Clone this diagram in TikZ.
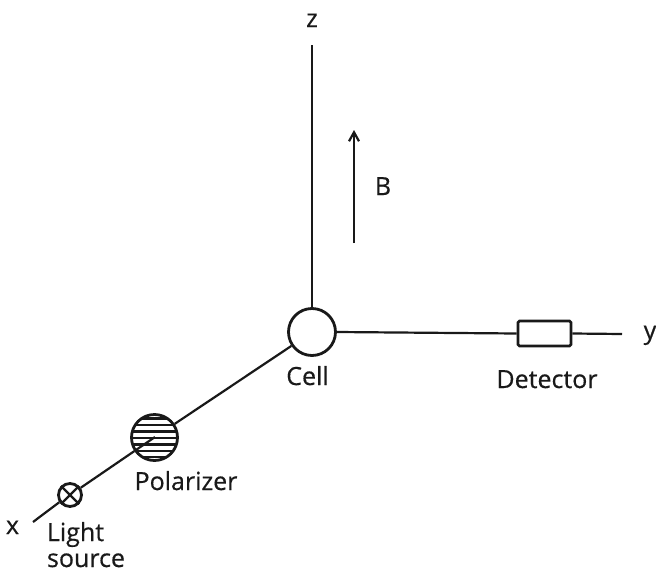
\documentclass[tikz,border=0pt]{standalone}
\usetikzlibrary{arrows.meta}
\usepackage{fontspec}
\newfontfamily\labfont[FakeBold=0.5]{Open Sans}
\begin{document}
\begin{tikzpicture}[x=1pt,y=-1pt,
  ink/.style={line width=2.2pt,black!90},
  ring/.style={circle,draw=black!90,line width=2.8pt,inner sep=0pt,fill=white},
  lab/.style={inner sep=0pt,font=\labfont\fontsize{25}{28}\selectfont,text=black!90,anchor=base},
  tip/.style={-{Straight Barb[length=9pt,width=10pt,line width=2.2pt]}}]
\useasboundingbox (0,0) rectangle (656,573);
\coordinate (xend) at (33,522);
\coordinate (yend) at (622,334);
\coordinate (zend) at (312,45);
\coordinate (bstart) at (354,243);
\coordinate (bend) at (354,130);
\coordinate (polc) at (155,437);
\node[ring,minimum size=47pt] (cell) at (312,332) {};
\node[ring,minimum size=46pt,fill=none] (pol) at (154.5,437.5) {};
\node[ring,minimum size=23pt] (src) at (70,495) {};
\node[draw=black!90,line width=2.8pt,rounded corners=1.5pt,minimum width=53pt,minimum height=25pt,inner sep=0pt,fill=white] (det) at (544.5,333.5) {};
% polarizer hatching
\begin{scope}
\clip (154.5,437.5) circle (23.5);
\foreach \yy in {418.5,425,431.5,438,444.5,451,457}{\draw[line width=2.6pt,black!90] (125,\yy)--(185,\yy);}
\fill[black!90] (125,459.5) rectangle (185,470);
\fill[black!90] (125,405) rectangle (185,415);
\end{scope}
% connectors
\draw[ink] (zend) -- (cell.north);
\draw[ink] (cell.east) -- (det.west);
\draw[ink] (det.east) -- (yend);
\draw[ink] (cell.214) -- (pol.34);
\draw[ink] (pol.214) -- (src.34);
\draw[ink] (pol.214) -- (polc);
\draw[ink] (src.214) -- (xend);
\draw[ink] (src.north west) -- (src.south east);
\draw[ink] (src.north east) -- (src.south west);
\draw[ink,tip] (bstart) -- (bend);
% labels
\node[lab] (lz) at (312,27) {z};
\node[lab] (lb) at (383,195) {B};
\node[lab] (ly) at (650,339) {y};
\node[lab] (lx) at (12.5,534) {x};
\node[lab] (lcell) at (307.5,385) {Cell};
\node[lab] (ldet) at (547,388) {Detector};
\node[lab] (lpol) at (186,490) {Polarizer};
\node[lab] (ll) at (75.5,541) {Light};
\node[lab] (ls) at (86,567) {source};
\end{tikzpicture}
\end{document}
